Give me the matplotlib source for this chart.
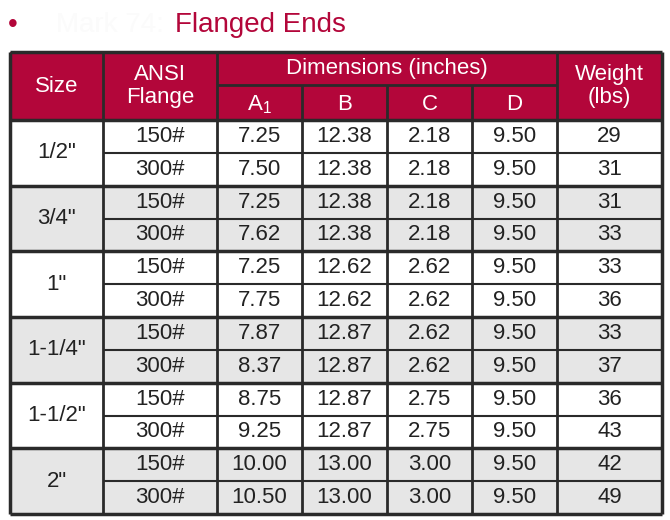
import matplotlib
matplotlib.use("Agg")
import matplotlib.pyplot as plt
from matplotlib.patches import Rectangle

sizes = ['1/2"', '3/4"', '1"', '1-1/4"', '1-1/2"', '2"']
flanges = ["150#", "300#"]
col_a1 = ["7.25","7.50","7.25","7.62","7.25","7.75","7.87","8.37","8.75","9.25","10.00","10.50"]
col_b = ["12.38","12.38","12.38","12.38","12.62","12.62","12.87","12.87","12.87","12.87","13.00","13.00"]
col_c = ["2.18","2.18","2.18","2.18","2.62","2.62","2.62","2.62","2.75","2.75","3.00","3.00"]
col_d = ["9.50"] * 12
weights = ["29","31","31","33","33","36","33","37","36","43","42","49"]

RED = "#b3063a"
GRAY = "#e6e6e6"
EDGE = "#2a2a2a"
FONT = "Liberation Sans"

fig = plt.figure(figsize=(6.7, 5.2), dpi=100)
ax = fig.add_axes([0, 0, 1, 1])
ax.set_xlim(0, 670); ax.set_ylim(520, 0); ax.axis("off")

xs = [10, 103, 217, 302, 387, 472, 557, 662]
h0, h1, h2 = 52, 85, 120
bot = 514
rh = (bot - h2) / 12

# title
ax.text(8, 25, "\u2022", color=RED, fontsize=20, va="center", family=FONT)
ax.text(56, 25, "Mark 74:", color="#fbfbfb", fontsize=20, va="center", family=FONT)
ax.text(175, 25, "Flanged Ends", color=RED, fontsize=20, va="center", family=FONT)

# header
ax.add_patch(Rectangle((xs[0], h0), xs[-1]-xs[0], h2-h0, color=RED, lw=0))
def hl(y, x0, x1, lw=2): ax.plot([x0, x1], [y, y], color=EDGE, lw=lw, solid_capstyle="butt")
def vl(x, y0, y1, lw=2): ax.plot([x, x], [y0, y1], color=EDGE, lw=lw, solid_capstyle="butt")
tk = dict(color="white", fontsize=16, ha="center", va="center", family=FONT)
ax.text((xs[0]+xs[1])/2, (h0+h2)/2, "Size", **tk)
ax.text((xs[1]+xs[2])/2, (h0+h2)/2, "ANSI\nFlange", linespacing=1.1, **tk)
ax.text((xs[2]+xs[6])/2, (h0+h1)/2, "Dimensions (inches)", **tk)
ax.text((xs[6]+xs[7])/2, (h0+h2)/2, "Weight\n(lbs)", linespacing=1.1, **tk)
for i, lab in enumerate(["A$_{\\mathregular{1}}$", "B", "C", "D"]):
    ax.text((xs[2+i]+xs[3+i])/2, (h1+h2)/2+2, lab, **tk)

# body
cols = [col_a1, col_b, col_c, col_d, weights]
bk = dict(color="#222222", fontsize=16, ha="center", va="center", family=FONT)
for g, s in enumerate(sizes):
    y0 = h2 + 2*g*rh
    if g % 2 == 1:
        ax.add_patch(Rectangle((xs[0], y0), xs[-1]-xs[0], 2*rh, color=GRAY, lw=0))
    ax.text((xs[0]+xs[1])/2, y0+rh, s, **bk)
    for r in range(2):
        i = 2*g + r
        yc = y0 + r*rh + rh/2
        ax.text((xs[1]+xs[2])/2, yc, flanges[r], **bk)
        for j, c in enumerate(cols):
            ax.text((xs[2+j]+xs[3+j])/2, yc, c[i], **bk)
    hl(y0+rh, xs[1], xs[-1], 1.5)
    hl(y0, xs[0], xs[-1], 2.5)

# lines
hl(h0, xs[0], xs[-1], 2.5); hl(bot, xs[0], xs[-1], 2.5)
hl(h1, xs[2], xs[6], 2)
for k, x in enumerate(xs):
    if k in (3, 4, 5):
        vl(x, h1, bot, 2)
    else:
        vl(x, h0, bot, 2.5 if k in (0, 7) else 2)

fig.savefig("out.png", dpi=100)
